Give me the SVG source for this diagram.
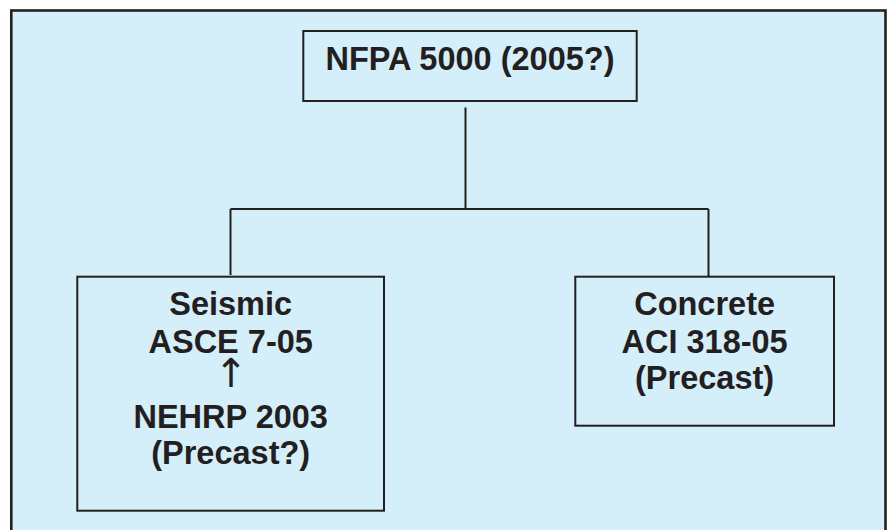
<svg xmlns="http://www.w3.org/2000/svg" width="890" height="530" viewBox="0 0 890 530">
<style>
.box{fill:none;stroke:#231f20;stroke-width:2}
.con{fill:none;stroke:#231f20;stroke-width:2}
.t{font-family:"Liberation Sans",Arial,sans-serif;font-weight:bold;font-size:32.5px;fill:#231f20;text-anchor:middle}
.a{font-family:"DejaVu Sans",sans-serif;font-size:40px;fill:#231f20;text-anchor:middle}
</style>
<rect x="0" y="0" width="890" height="530" fill="#ffffff"/>
<rect id="frame" x="11.3" y="10.5" width="874.2" height="530" fill="#d4eefa" stroke="#231f20" stroke-width="2.6"/>
<g id="connectors">
<path class="con" d="M465.5 107.5V209M230.5 209H708.5M230.5 209V275M708.5 209V277"/>
</g>
<g id="nfpa">
<rect class="box" x="303.3" y="31" width="333.4" height="70"/>
<text class="t" x="470" y="70">NFPA 5000 (2005?)</text>
</g>
<g id="seismic">
<rect class="box" x="77.3" y="276.7" width="306.7" height="234"/>
<text class="t" x="230.7" y="315">Seismic</text>
<text class="t" x="230.7" y="352.7">ASCE 7-05</text>
<text class="a" x="231" y="387">↑</text>
<text class="t" x="230.7" y="428">NEHRP 2003</text>
<text class="t" x="230.7" y="464">(Precast?)</text>
</g>
<g id="concrete">
<rect class="box" x="575.3" y="276.7" width="258.7" height="149"/>
<text class="t" x="704.6" y="315">Concrete</text>
<text class="t" x="704.6" y="352.7">ACI 318-05</text>
<text class="t" x="704.6" y="389.3">(Precast)</text>
</g>
</svg>
